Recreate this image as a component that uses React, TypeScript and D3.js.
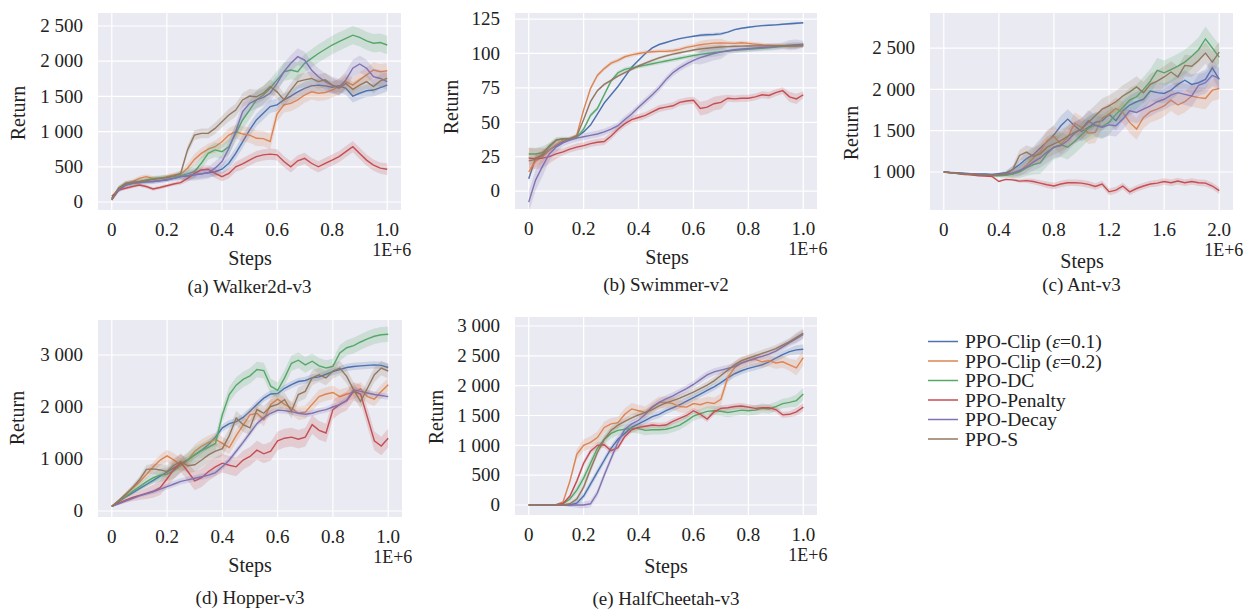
import * as React from "react";
import * as d3 from "d3";

// legend order = draw order
const seriesNames = ["PPO-Clip (", "PPO-Clip (", "PPO-DC", "PPO-Penalty", "PPO-Decay", "PPO-S"];
const epsValues = ["0.1", "0.2", null, null, null, null];
const colors = ["#4c72b0", "#dd8452", "#55a868", "#c44e52", "#8172b3", "#937860"];

// returns sampled every 0.025E+6 steps (Ant: every 0.05E+6), order: Clip0.1, Clip0.2, DC, Penalty, Decay, S
const walker = [
  [40, 170, 240, 265, 275, 285, 290, 300, 312, 335, 360, 370, 385, 400, 415, 430, 465, 550, 690, 855, 1020, 1165, 1260, 1355, 1380, 1450, 1505, 1565, 1615, 1650, 1660, 1650, 1630, 1650, 1615, 1505, 1545, 1580, 1590, 1625, 1660],
  [50, 195, 265, 290, 335, 360, 335, 335, 360, 385, 395, 480, 605, 690, 750, 785, 855, 950, 1000, 965, 950, 905, 900, 860, 1250, 1380, 1400, 1450, 1520, 1565, 1545, 1555, 1590, 1640, 1710, 1660, 1735, 1805, 1875, 1850, 1865],
  [50, 195, 255, 275, 290, 312, 330, 340, 345, 360, 375, 400, 430, 550, 690, 740, 715, 785, 975, 1165, 1305, 1450, 1520, 1615, 1735, 1850, 1875, 1850, 1970, 2040, 2110, 2170, 2230, 2280, 2325, 2370, 2340, 2290, 2255, 2265, 2230],
  [80, 170, 195, 220, 240, 220, 185, 205, 230, 255, 275, 335, 405, 455, 465, 405, 360, 405, 500, 540, 595, 645, 670, 680, 670, 575, 500, 585, 620, 550, 500, 550, 595, 645, 715, 785, 690, 595, 525, 480, 465],
  [30, 170, 240, 265, 275, 285, 290, 305, 320, 335, 360, 375, 390, 400, 415, 480, 575, 760, 1000, 1285, 1400, 1450, 1485, 1545, 1685, 1850, 1970, 2065, 2015, 1875, 1780, 1710, 1660, 1630, 1735, 1900, 1960, 1900, 1780, 1755, 1710],
  [30, 195, 265, 280, 290, 305, 320, 335, 350, 370, 405, 740, 950, 975, 975, 1045, 1140, 1235, 1305, 1450, 1505, 1495, 1545, 1640, 1565, 1450, 1590, 1710, 1735, 1755, 1710, 1735, 1660, 1615, 1685, 1600, 1660, 1710, 1640, 1720, 1755],
];
const walkerSpread = [90, 110, 130, 80, 120, 100];
const walkerBand = [0.2, 0.3, 0.3, 0.3, 0.3, 0.3, 0.3, 0.3, 0.3, 0.3, 0.4, 0.6, 0.7, 0.7, 0.7, 0.8, 0.8, 0.9, 0.9, 1, 1, 1, 1, 1, 1, 1, 1, 1, 1, 1, 1, 1, 1, 1, 1, 1, 1, 1, 1, 1, 1];

const swimmer = [
  [9, 24, 26, 30, 33, 36, 38, 39.5, 43, 48, 56, 64, 70, 76, 83, 90, 95, 100, 104, 106.5, 108, 109.5, 110.8, 111.7, 112.5, 113.2, 113.6, 113.8, 114.2, 115.5, 117.3, 118.3, 119, 119.7, 120.2, 120.5, 120.8, 121.2, 121.6, 122, 122.3],
  [14, 22, 25, 30, 34, 37, 38, 40.7, 59, 74.6, 84, 89, 93, 95, 97.6, 99, 100, 100.8, 101.2, 101.5, 101.5, 102, 103, 104.4, 105.3, 106.3, 107, 107.5, 107.7, 107.5, 107.3, 107.8, 107.3, 106.8, 106.3, 106, 105.8, 105.8, 105.6, 105.6, 105.8],
  [27, 27, 28, 32, 37, 38, 38, 39, 45, 55, 60, 70, 80, 86, 88.5, 89.5, 90.5, 91.5, 92.5, 93.5, 94.5, 95.5, 96.5, 97.5, 98.5, 99.3, 100, 100.7, 101.3, 101.8, 102.3, 102.7, 103, 103.4, 103.8, 104.2, 104.6, 105, 105.5, 106, 106.5],
  [24, 23.5, 24, 25, 27, 28.5, 30.5, 32, 33, 34.5, 35.5, 36, 40, 45, 49, 52, 53.5, 55, 57.5, 60, 61, 62, 64.5, 65.5, 66, 60, 61, 63.5, 64.5, 67.5, 67, 67.5, 67.5, 68.5, 70, 69.5, 71.5, 73, 68.5, 67, 70],
  [-8, 8, 18, 27, 32, 35, 37, 38.5, 39.5, 40.5, 41.5, 43, 45, 47.5, 52, 56, 61, 65.5, 70, 75, 81, 86, 89.5, 92.5, 95, 97, 98.5, 100, 101, 102, 102.7, 103.2, 103.6, 104, 104.3, 104.6, 105, 105.5, 106, 106.4, 106.8],
  [22, 23, 27, 33, 37, 38, 38, 40, 52, 65, 73, 77.5, 80.5, 83.5, 86, 88.5, 91, 93, 95, 96.8, 98.2, 99.5, 100.5, 101.5, 102.5, 103.2, 103.8, 104.3, 104.7, 105, 105.2, 105.3, 105.4, 105.5, 105.5, 105.5, 105.5, 105.6, 105.4, 105.3, 105.5],
];
const swimmerSpread = [0.6, 1.5, 1.5, 2.5, 2.5, 1];
const swimmerBand = [3, 3, 3, 2, 1.5, 1, 1, 1, 1, 1, 1, 1, 1, 1, 1, 1, 1, 1, 1, 1, 1, 1, 1, 1, 1, 2, 2, 2, 2, 1, 1, 1, 1, 1, 1, 1, 1, 1, 1.5, 1.5, 1];

const ant = [
  [1000, 995, 990, 985, 980, 975, 975, 970, 980, 990, 1030, 1090, 1160, 1210, 1290, 1370, 1450, 1560, 1640, 1560, 1490, 1540, 1600, 1620, 1700, 1620, 1740, 1810, 1850, 1880, 1980, 1960, 1950, 1990, 2060, 2110, 2060, 2080, 2120, 2260, 2120],
  [1000, 990, 980, 975, 970, 965, 960, 960, 965, 970, 975, 1010, 1080, 1170, 1250, 1380, 1430, 1340, 1420, 1590, 1540, 1470, 1480, 1650, 1700, 1770, 1720, 1600, 1520, 1660, 1730, 1760, 1800, 1870, 1810, 1850, 1920, 1900, 1890, 1990, 2010],
  [1000, 990, 980, 975, 970, 965, 960, 955, 955, 960, 975, 1000, 1050, 1090, 1110, 1220, 1300, 1330, 1300, 1370, 1450, 1530, 1570, 1550, 1600, 1700, 1780, 1870, 1910, 2000, 2100, 2230, 2200, 2240, 2280, 2330, 2400, 2480, 2610, 2500, 2390],
  [1000, 990, 985, 970, 965, 955, 950, 945, 885, 910, 905, 890, 895, 885, 865, 845, 830, 855, 870, 870, 865, 850, 825, 855, 760, 780, 830, 760, 800, 830, 855, 865, 885, 870, 890, 870, 885, 870, 865, 830, 775],
  [1000, 992, 985, 980, 975, 970, 968, 965, 968, 975, 990, 1020, 1060, 1120, 1170, 1240, 1300, 1320, 1380, 1470, 1520, 1620, 1560, 1540, 1570, 1560, 1640, 1740, 1720, 1760, 1800, 1850, 1880, 1930, 1960, 1940, 1920, 2050, 2080, 2170, 2130],
  [1000, 992, 985, 978, 972, 968, 965, 962, 965, 975, 1030, 1200, 1240, 1190, 1220, 1300, 1340, 1380, 1430, 1480, 1520, 1600, 1680, 1760, 1800, 1850, 1920, 1970, 2030, 1960, 2060, 2100, 2150, 2210, 2150, 2290, 2280, 2350, 2440, 2330, 2450],
];
const antSpread = [120, 130, 150, 40, 130, 130];
const antBand = [0.02, 0.04, 0.05, 0.06, 0.07, 0.08, 0.08, 0.1, 0.12, 0.2, 0.35, 0.5, 0.65, 0.8, 0.9, 1, 1, 1, 1, 1, 1, 1, 1, 1, 1, 1, 1, 1, 1, 1, 1, 1, 1, 1, 1, 1, 1, 1, 1, 1, 1];

const hopper = [
  [90, 180, 270, 350, 430, 510, 590, 670, 750, 830, 910, 990, 1080, 1170, 1280, 1420, 1600, 1680, 1720, 1800, 1920, 2050, 2170, 2250, 2260, 2360, 2430, 2490, 2510, 2560, 2580, 2630, 2680, 2720, 2760, 2780, 2790, 2800, 2810, 2800, 2760],
  [90, 200, 320, 440, 560, 700, 850, 980, 1060, 980, 880, 980, 1150, 1250, 1320, 1380, 1300, 1220, 1450, 1650, 1850, 1880, 1760, 2050, 2150, 2050, 1980, 1880, 1900, 2050, 2200, 2250, 2280, 2200, 2250, 2280, 2350, 2200, 2150, 2300, 2430],
  [90, 185, 280, 380, 470, 560, 640, 690, 710, 780, 880, 980, 1080, 1160, 1230, 1300, 1850, 2240, 2420, 2530, 2600, 2720, 2700, 2400, 2320, 2560, 2840, 2900, 2810, 2880, 2790, 2750, 2780, 3040, 3140, 3180, 3250, 3310, 3360, 3390, 3400],
  [90, 150, 210, 260, 300, 340, 380, 450, 620, 800, 930, 760, 580, 640, 760, 850, 920, 880, 850, 980, 1050, 1170, 1100, 1150, 1350, 1400, 1420, 1380, 1420, 1660, 1550, 1500, 1950, 2050, 2120, 2300, 2250, 1800, 1350, 1250, 1400],
  [90, 140, 190, 240, 290, 330, 370, 420, 470, 520, 570, 600, 630, 660, 690, 740, 850, 980, 1150, 1320, 1500, 1680, 1800, 1880, 1940, 1930, 1910, 1880, 1860, 1880, 1920, 1950, 2000, 2050, 2130, 2330, 2300, 2270, 2240, 2220, 2200],
  [90, 200, 320, 450, 600, 800, 810, 790, 760, 880, 950, 870, 890, 980, 1080, 1150, 1200, 1450, 1790, 1660, 1600, 1950, 1880, 2010, 2050, 2140, 1920, 2240, 2300, 2560, 2620, 2560, 2690, 2750, 2590, 2330, 2110, 2360, 2620, 2750, 2690],
];
const hopperSpread = [70, 130, 150, 180, 60, 140];
const hopperBand = [0.1, 0.2, 0.3, 0.4, 0.5, 0.6, 0.7, 0.8, 0.9, 1, 1, 1, 1, 1, 1, 1, 1, 1, 1, 1, 1, 1, 1, 1, 1, 1, 1, 1, 1, 1, 1, 1, 1, 1, 1, 1, 1, 1, 1, 1, 1];

const cheetah = [
  [0, 0, 0, 0, 0, 0, 0, 30, 150, 350, 550, 750, 950, 1100, 1200, 1300, 1360, 1420, 1480, 1520, 1580, 1630, 1680, 1740, 1800, 1860, 1920, 1980, 2050, 2130, 2200, 2250, 2290, 2320, 2350, 2400, 2460, 2520, 2570, 2600, 2610],
  [0, 0, 0, 0, 5, 50, 400, 850, 1000, 1050, 1130, 1300, 1360, 1380, 1520, 1610, 1580, 1550, 1640, 1720, 1720, 1700, 1650, 1640, 1700, 1680, 1720, 1700, 1770, 2140, 2300, 2380, 2420, 2440, 2400, 2420, 2380, 2400, 2350, 2300, 2470],
  [0, 0, 0, 0, 5, 20, 100, 250, 450, 700, 950, 1100, 1200, 1250, 1270, 1290, 1280, 1250, 1260, 1260, 1270, 1300, 1340, 1410, 1490, 1530, 1570, 1580, 1570, 1550, 1570, 1590, 1580, 1590, 1620, 1610, 1650, 1700, 1720, 1750, 1860],
  [0, 0, 0, 0, 5, 25, 150, 400, 700, 900, 1000, 1010, 910, 960, 1150, 1260, 1300, 1320, 1340, 1330, 1340, 1400, 1450, 1500, 1580, 1520, 1440, 1560, 1620, 1630, 1650, 1660, 1640, 1620, 1630, 1630, 1600, 1510, 1520, 1560, 1640],
  [0, 0, 0, 0, 0, 0, 0, 0, 0, 20, 200, 500, 780, 1050, 1270, 1360, 1420, 1520, 1640, 1720, 1780, 1830, 1890, 1950, 2020, 2100, 2180, 2230, 2260, 2290, 2320, 2380, 2420, 2460, 2490, 2530, 2580, 2650, 2720, 2790, 2860],
  [0, 0, 0, 0, 0, 0, 20, 100, 300, 600, 880, 1100, 1250, 1340, 1400, 1460, 1510, 1550, 1600, 1660, 1710, 1750, 1790, 1840, 1890, 1950, 2010, 2080, 2170, 2260, 2350, 2420, 2460, 2500, 2540, 2580, 2620, 2680, 2740, 2810, 2880],
];
const cheetahSpread = [60, 100, 80, 50, 60, 60];
const cheetahBand = [0, 0, 0, 0, 0.05, 0.2, 0.5, 0.8, 1, 1, 1, 1, 1, 1, 1, 1, 1, 1, 1, 1, 1, 1, 1, 1, 1, 1, 1, 1, 1, 1, 1, 1, 1, 1, 1, 1, 1, 1, 1, 1.3, 1.3];

const xTicksUnit = [0, 0.2, 0.4, 0.6, 0.8, 1.0];
const xTicksAnt = [0, 0.4, 0.8, 1.2, 1.6, 2.0];

const FONT = "'Liberation Serif', 'Times New Roman', serif";

type Panel = {
  caption: string;
  data: number[][];
  spread: number[];
  band: number[];
  xMax: number;
  xTicks: number[];
  yDomain: [number, number];
  yTicks: number[];
  box: [number, number, number, number]; // left, top, right, bottom
  yLabel: [number, number];
  steps: [number, number];
  capY: number;
};

const panels: Panel[] = [
  { caption: "(a) Walker2d-v3", data: walker, spread: walkerSpread, band: walkerBand, xMax: 1, xTicks: xTicksUnit,
    yDomain: [-114, 2685], yTicks: [0, 500, 1000, 1500, 2000, 2500],
    box: [98, 13, 401, 210], yLabel: [19, 113], steps: [250, 259], capY: 287 },
  { caption: "(b) Swimmer-v2", data: swimmer, spread: swimmerSpread, band: swimmerBand, xMax: 1, xTicks: xTicksUnit,
    yDomain: [-13, 129.4], yTicks: [0, 25, 50, 75, 100, 125],
    box: [515, 13, 817, 209], yLabel: [452, 107], steps: [667, 258], capY: 285 },
  { caption: "(c) Ant-v3", data: ant, spread: antSpread, band: antBand, xMax: 2, xTicks: xTicksAnt,
    yDomain: [540, 2924], yTicks: [1000, 1500, 2000, 2500],
    box: [930, 13, 1233, 210], yLabel: [852, 133], steps: [1082, 262], capY: 285 },
  { caption: "(d) Hopper-v3", data: hopper, spread: hopperSpread, band: hopperBand, xMax: 1, xTicks: xTicksUnit,
    yDomain: [-115, 3673], yTicks: [0, 1000, 2000, 3000],
    box: [98, 320, 402, 517], yLabel: [18, 418], steps: [250, 566], capY: 598 },
  { caption: "(e) HalfCheetah-v3", data: cheetah, spread: cheetahSpread, band: cheetahBand, xMax: 1, xTicks: xTicksUnit,
    yDomain: [-168, 3151], yTicks: [0, 500, 1000, 1500, 2000, 2500, 3000],
    box: [515, 317, 817, 515], yLabel: [437, 417], steps: [666, 567], capY: 599 },
];

const fmtY = (v: number) => d3.format(",")(v).replace(/,/g, " ");
const fmtX = (v: number) => (v === 0 ? "0" : v.toFixed(1));

function PanelChart({ p, idx }: { p: Panel; idx: number }) {
  const [left, top, right, bottom] = p.box;
  const x = d3.scaleLinear().domain([-0.05 * p.xMax, 1.05 * p.xMax]).range([left, right]);
  const y = d3.scaleLinear().domain(p.yDomain).range([bottom, top]);
  const n = p.data[0].length;
  const xs = d3.range(n).map((i) => (i * p.xMax) / (n - 1));
  const line = d3.line<number>().x((_, i) => x(xs[i])).y((d) => y(d));
  const clipId = `clip-${idx}`;
  const cx = (left + right) / 2;

  return (
    <g fontFamily={FONT} fill="#222">
      <clipPath id={clipId}>
        <rect x={left} y={top} width={right - left} height={bottom - top} />
      </clipPath>
      <rect x={left} y={top} width={right - left} height={bottom - top} fill="#eaeaf2" />
      {p.xTicks.map((t) => (
        <line key={"gx" + t} x1={x(t)} x2={x(t)} y1={top} y2={bottom} stroke="#fff" strokeWidth={1.2} />
      ))}
      {p.yTicks.map((t) => (
        <line key={"gy" + t} x1={left} x2={right} y1={y(t)} y2={y(t)} stroke="#fff" strokeWidth={1.2} />
      ))}
      <g clipPath={`url(#${clipId})`}>
        {p.data.map((vals, s) => {
          const area = d3
            .area<number>()
            .x((_, i) => x(xs[i]))
            .y0((d, i) => y(d - p.spread[s] * p.band[i]))
            .y1((d, i) => y(d + p.spread[s] * p.band[i]));
          return (
            <g key={s}>
              <path d={area(vals) ?? ""} fill={colors[s]} fillOpacity={0.2} stroke="none" />
              <path d={line(vals) ?? ""} fill="none" stroke={colors[s]} strokeWidth={1.4} />
            </g>
          );
        })}
      </g>
      {p.yTicks.map((t) => (
        <text key={"ty" + t} x={left - 15} y={y(t)} dy="0.33em" textAnchor="end" fontSize={19}>
          {fmtY(t)}
        </text>
      ))}
      {p.xTicks.map((t) => (
        <text key={"tx" + t} x={x(t)} y={bottom + 26} textAnchor="middle" fontSize={19}>
          {fmtX(t)}
        </text>
      ))}
      <text x={x(p.xMax) - 15} y={bottom + 46} fontSize={18}>1E+6</text>
      <text x={p.steps[0]} y={p.steps[1] + 6} textAnchor="middle" fontSize={20}>Steps</text>
      <text
        transform={`translate(${p.yLabel[0] + 6},${p.yLabel[1]}) rotate(-90)`}
        textAnchor="middle"
        fontSize={20}
      >
        Return
      </text>
      <text x={cx} y={p.capY + 6} textAnchor="middle" fontSize={19}>{p.caption}</text>
    </g>
  );
}

function Legend() {
  const x0 = 928;
  const y0 = 341.5;
  const dy = 19.5;
  return (
    <g fontFamily={FONT} fontSize={19.5} fill="#222">
      {seriesNames.map((name, i) => (
        <g key={i}>
          <line x1={x0} x2={x0 + 30} y1={y0 + i * dy} y2={y0 + i * dy} stroke={colors[i]} strokeWidth={1.5} />
          <text x={x0 + 37} y={y0 + i * dy + 6.5}>
            {name}
            {epsValues[i] && (
              <>
                <tspan fontStyle="italic">ε</tspan>
                {"=" + epsValues[i] + ")"}
              </>
            )}
          </text>
        </g>
      ))}
    </g>
  );
}

export default function App() {
  return (
    <svg
      width={1257}
      height={610}
      style={{ position: "absolute", left: 0, top: 0, background: "#fff" }}
    >
      {panels.map((p, i) => (
        <PanelChart key={i} p={p} idx={i} />
      ))}
      <Legend />
    </svg>
  );
}
